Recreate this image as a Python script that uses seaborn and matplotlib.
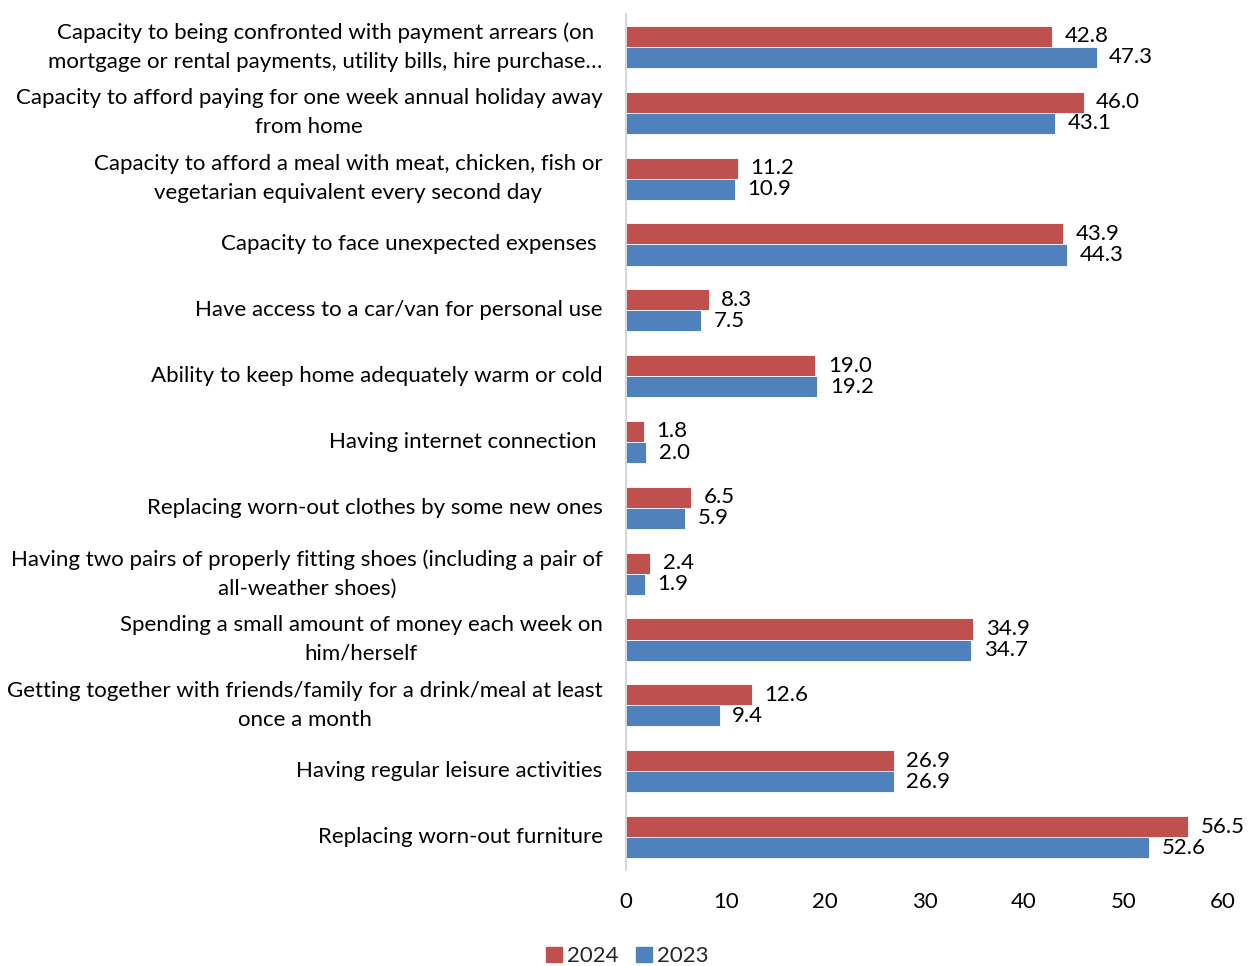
import matplotlib
matplotlib.use("Agg")
import matplotlib.pyplot as plt
import seaborn as sns
import pandas as pd

categories = [
    "Capacity to being confronted with payment arrears (on\nmortgage or rental payments, utility bills, hire purchase\u2026",
    "Capacity to afford paying for one week annual holiday away\nfrom home",
    "Capacity to afford a meal with meat, chicken, fish or\nvegetarian equivalent every second day",
    "Capacity to face unexpected expenses ",
    "Have access to a car/van for personal use",
    "Ability to keep home adequately warm or cold",
    "Having internet connection ",
    "Replacing worn-out clothes by some new ones",
    "Having two pairs of properly fitting shoes (including a pair of\nall-weather shoes)",
    "Spending a small amount of money each week on\nhim/herself",
    "Getting together with friends/family for a drink/meal at least\nonce a month",
    "Having regular leisure activities",
    "Replacing worn-out furniture",
]
values_2024 = [42.8, 46.0, 11.2, 43.9, 8.3, 19.0, 1.8, 6.5, 2.4, 34.9, 12.6, 26.9, 56.5]
values_2023 = [47.3, 43.1, 10.9, 44.3, 7.5, 19.2, 2.0, 5.9, 1.9, 34.7, 9.4, 26.9, 52.6]
series = ["2024", "2023"]
colors = ["#C0504D", "#4F81BD"]
xticks = [0, 10, 20, 30, 40, 50, 60]

df = pd.DataFrame({
    "category": categories * 2,
    "value": values_2024 + values_2023,
    "year": [series[0]] * len(categories) + [series[1]] * len(categories),
})

sns.set_theme(style="white")
plt.rcParams["font.family"] = ["Lato", "DejaVu Sans"]

FS = 16

fig = plt.figure(figsize=(12.55, 9.66), dpi=100)
ax = fig.add_axes([0.499, 0.0994, 0.4755, 0.8861])

sns.barplot(data=df, x="value", y="category", hue="year", hue_order=series,
            order=categories, palette=colors, width=0.64, orient="h",
            edgecolor="white", linewidth=0.6, saturation=1, ax=ax)

for cont in ax.containers:
    ax.bar_label(cont, fmt="%.1f", padding=9, fontsize=FS, color="black")

ax.set_xlim(0, 60)
ax.set_xticks(xticks)
ax.set_ylim(len(categories) - 0.5, -0.5)
ax.set_xlabel("")
ax.set_ylabel("")
ax.tick_params(axis="x", labelsize=FS, length=0, pad=16, colors="black")
ax.tick_params(axis="y", labelsize=FS, length=0, pad=17, colors="black")
for lab in ax.get_yticklabels():
    lab.set_multialignment("center")
    lab.set_linespacing(1.55)
    lab.set_verticalalignment("center")

for s in ["top", "right", "bottom"]:
    ax.spines[s].set_visible(False)
ax.spines["left"].set_color("#D0D0D0")
ax.spines["left"].set_linewidth(1.2)

ax.legend_.remove()
handles = [plt.Rectangle((0, 0), 1, 1, color=c) for c in colors]
fig.legend(handles, series, loc="center", bbox_to_anchor=(0.5, 0.01),
           ncol=2, frameon=False, fontsize=FS, handlelength=0.7,
           handleheight=0.7, handletextpad=0.25, columnspacing=0.8)

fig.savefig("out.png", dpi=100)
